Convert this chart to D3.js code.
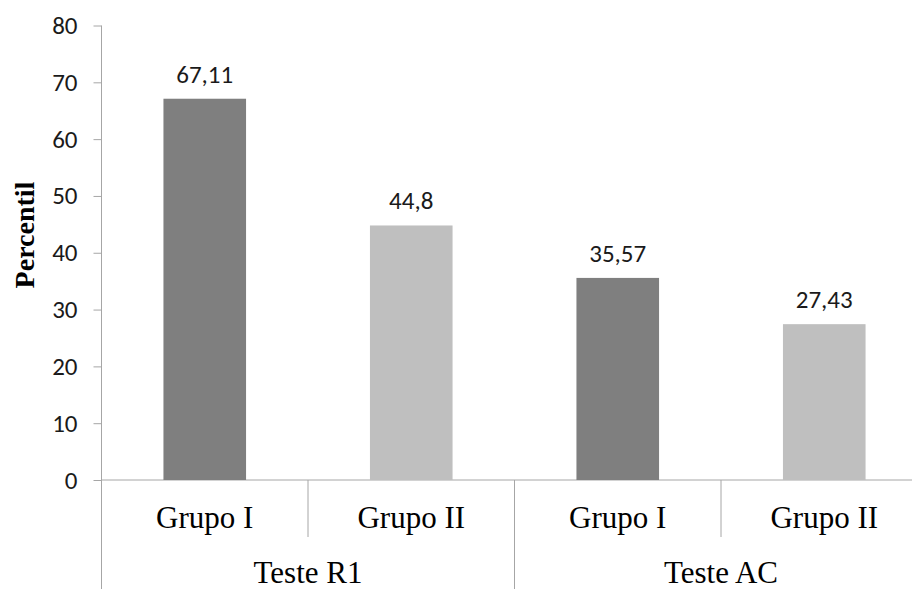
<!DOCTYPE html>
<html><head><meta charset="utf-8">
<script src="https://cdn.jsdelivr.net/npm/d3@7"></script>
<style>body{margin:0;background:#fff;} svg{display:block;}</style>
</head><body>
<svg id="chart" width="912" height="589"></svg>
<script>
const categories = ["Grupo I", "Grupo II", "Grupo I", "Grupo II"];
const tests = ["Teste R1", "Teste AC"];
const values = [67.11, 44.8, 35.57, 27.43];
const valueLabels = ["67,11", "44,8", "35,57", "27,43"];
const barColors = ["#7f7f7f", "#bfbfbf", "#7f7f7f", "#bfbfbf"];
const yTicks = [0, 10, 20, 30, 40, 50, 60, 70, 80];

const svg = d3.select("#chart");
const x0 = 101.5, x1 = 927.5, yBase = 480, yTop = 25.5;
const x = d3.scaleBand().domain(d3.range(categories.length)).range([x0, x1]).padding(0);
const y = d3.scaleLinear().domain([0, 80]).range([yBase, yTop]);
const axisColor = "#a6a6a6";
const numFont = "Carlito, Lato, sans-serif";
const serif = "Liberation Serif, Times New Roman, serif";

// y axis
const yAxis = d3.axisLeft(y).tickValues(yTicks).tickSize(8).tickPadding(16);
const gy = svg.append("g").attr("transform", `translate(${x0},0)`).call(yAxis);
gy.select(".domain").remove();
gy.selectAll(".tick line").attr("stroke", axisColor);
gy.selectAll(".tick text").attr("font-family", numFont).attr("font-size", 25).attr("fill", "#1a1a1a");
svg.append("line").attr("x1", x0).attr("x2", x0).attr("y1", yTop).attr("y2", 589).attr("stroke", axisColor);

// x axis line
svg.append("line").attr("x1", x0).attr("x2", x1).attr("y1", yBase).attr("y2", yBase).attr("stroke", axisColor);

// bars
const bw = x.bandwidth() * 0.4;
svg.selectAll("rect.bar").data(values).join("rect")
  .attr("class", "bar")
  .attr("x", (d, i) => x(i) + x.bandwidth() / 2 - bw / 2)
  .attr("y", d => y(d))
  .attr("width", bw)
  .attr("height", d => y(0) - y(d))
  .attr("fill", (d, i) => barColors[i]);

// value labels
svg.selectAll("text.val").data(values).join("text")
  .attr("class", "val")
  .attr("x", (d, i) => x(i) + x.bandwidth() / 2)
  .attr("y", d => y(d) - 16)
  .attr("text-anchor", "middle")
  .attr("font-family", numFont).attr("font-size", 25).attr("fill", "#1a1a1a")
  .text((d, i) => valueLabels[i]);

// category separators
d3.range(1, categories.length).forEach(i => {
  const xs = x(i);
  const full = (i % 2 === 0);
  svg.append("line").attr("x1", xs).attr("x2", xs).attr("y1", yBase).attr("y2", full ? 589 : 537).attr("stroke", axisColor);
});

// category labels
svg.selectAll("text.cat").data(categories).join("text")
  .attr("class", "cat")
  .attr("x", (d, i) => x(i) + x.bandwidth() / 2)
  .attr("y", 528)
  .attr("text-anchor", "middle")
  .attr("font-family", serif).attr("font-size", 31).attr("fill", "#000")
  .text(d => d);

// test labels
svg.selectAll("text.test").data(tests).join("text")
  .attr("class", "test")
  .attr("x", (d, i) => (x(i * 2) + x(i * 2 + 1) + x.bandwidth()) / 2)
  .attr("y", 583)
  .attr("text-anchor", "middle")
  .attr("font-family", serif).attr("font-size", 31).attr("fill", "#000")
  .text(d => d);

// y title
svg.append("text")
  .attr("transform", "translate(34,235) rotate(-90)")
  .attr("text-anchor", "middle")
  .attr("font-family", serif).attr("font-weight", "bold").attr("font-size", 28)
  .text("Percentil");
</script>
</body></html>
